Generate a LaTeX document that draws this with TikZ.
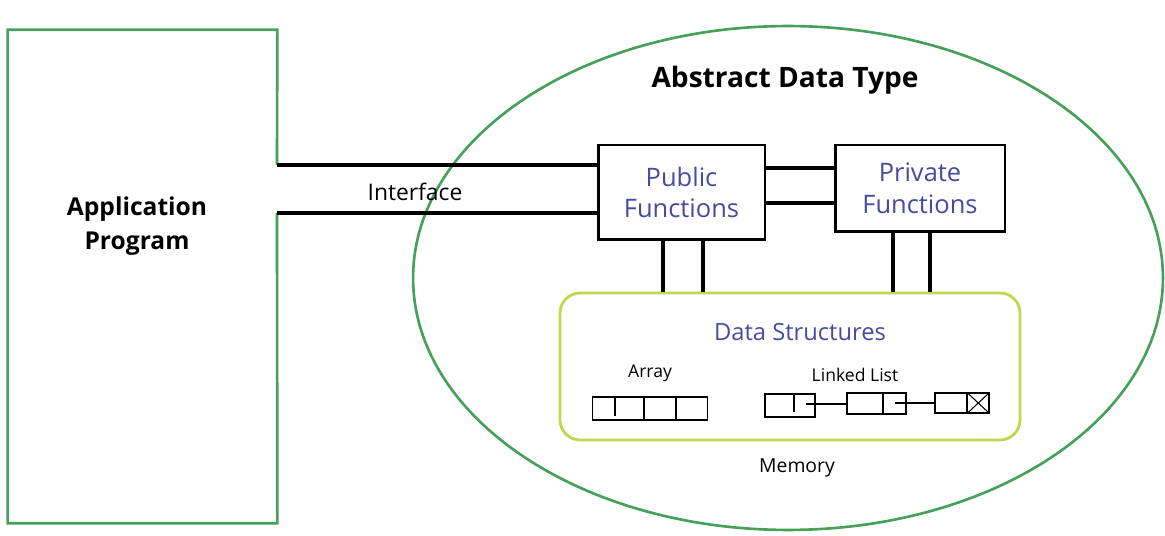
\documentclass[tikz,border=0pt]{standalone}
\usepackage{fontspec}
\setmainfont{Open Sans}
\usepackage{tikz}
\usetikzlibrary{shapes.geometric}
\definecolor{appgreen}{RGB}{70,160,90}
\definecolor{dsyellow}{RGB}{190,215,80}
\definecolor{fnblue}{RGB}{70,75,160}
\tikzstyle{Program}=[minimum width=5.38cm, minimum height=9.86cm, inner sep=0pt, draw=none]
\tikzstyle{Type}=[shape=ellipse, minimum width=15cm, minimum height=10.08cm, inner sep=0pt, line width=1.5pt, draw=appgreen]
\tikzstyle{Function}=[minimum height=1.9cm, fill=white, line width=1.7pt, draw=black, text=fnblue, align=center, font=\fontsize{14.5}{18}\selectfont]
\tikzstyle{Store}=[minimum width=9.2cm, minimum height=2.94cm, rounded corners=0.4cm, line width=1.6pt, draw=dsyellow]
\tikzstyle{Cell}=[minimum height=0.44cm, inner sep=0pt, line width=0.6pt, draw=black]
\tikzstyle{label}=[text=black, font=\fontsize{10}{12}\selectfont]
\tikzstyle{wire}=[line width=1.8pt]
\tikzstyle{thin}=[line width=0.6pt]
\pgfdeclarelayer{nodelayer}
\pgfdeclarelayer{edgelayer}
\pgfsetlayers{nodelayer, edgelayer}

\begin{document}
\begin{tikzpicture}[x=0.02cm, y=-0.02cm]
	\useasboundingbox (0,0) rectangle (1165,536);
	\begin{pgfonlayer}{nodelayer}
		\node [style=Program] (app) at (142.5, 276.5) {};
		\node [font=\bfseries\fontsize{14}{19}\selectfont, align=center] (apptext) at (137, 226) {Application\\Program};
		\node [style=Type] (adt) at (788, 278) {};
		\node [font=\bfseries\fontsize{16}{18}\selectfont] (adttext) at (785, 80) {Abstract Data Type};
		\node [style=Function, minimum width=3.34cm] (public) at (681.5, 192.5) {Public\\Functions};
		\node [style=Function, minimum width=3.4cm, minimum height=1.74cm] (private) at (920, 188.5) {Private\\Functions};
		\node [style=Store] (store) at (790, 366.5) {};
		\node [text=fnblue, font=\fontsize{13.5}{15}\selectfont] (storetext) at (800, 332) {Data Structures};
		\node [style=label] (arraytext) at (650, 373) {Array};
		\node [style=label] (listtext) at (855, 375) {Linked List};
		\node [style=Cell, minimum width=2.3cm, minimum height=0.46cm] (array) at (650, 408.5) {};
		\node [style=Cell, minimum width=1cm, minimum height=0.46cm] (ll1) at (790, 405.5) {};
		\node [style=Cell, minimum width=1.18cm, minimum height=0.42cm] (ll2) at (876.5, 403.5) {};
		\node [style=Cell, minimum width=1.08cm, minimum height=0.4cm] (ll3) at (962, 403) {};
		\node [font=\fontsize{11}{13}\selectfont] (memory) at (797, 468) {Memory};
		\node [font=\fontsize{13}{15}\selectfont] (interface) at (415, 192) {Interface};
		\coordinate (if1) at (277, 165);
		\coordinate (if2) at (277, 213);
		\coordinate (p1) at (806, 404);
		\coordinate (p2) at (895, 403);
	\end{pgfonlayer}
	\begin{pgfonlayer}{edgelayer}
		\draw [line width=1.5pt, draw=appgreen] (if1) -- (app.north east) -- (app.north west) -- (app.south west) -- (app.south east) -- (if2);
		\draw [style=wire] (if1) to (if1 -| public.west);
		\draw [style=wire] (if2) to (if2 -| public.west);
		\draw [style=wire] (public.east |- 0,168) to (private.west |- 0,168);
		\draw [style=wire] (public.east |- 0,203) to (private.west |- 0,203);
		\draw [style=wire] (public.south -| 663,0) to (store.north -| 663,0);
		\draw [style=wire] (public.south -| 703,0) to (store.north -| 703,0);
		\draw [style=wire] (private.south -| 893,0) to (store.north -| 893,0);
		\draw [style=wire] (private.south -| 930,0) to (store.north -| 930,0);
		% cells
		\draw [style=thin] (array.north -| 615,0) to (0,416 -| 615,0);
		\draw [style=thin] (array.north -| 644,0) to (array.south -| 644,0);
		\draw [style=thin] (array.north -| 676,0) to (array.south -| 676,0);
		\draw [style=thin] (ll1.north -| 794,0) to (0,412 -| 794,0);
		\draw [style=thin] (ll2.north -| 883,0) to (ll2.south -| 883,0);
		\draw [style=thin] (ll3.north -| 967,0) to (ll3.south -| 967,0);
		\draw [style=thin] (ll3.north -| 967,0) to (ll3.south east);
		\draw [style=thin] (ll3.south -| 967,0) to (ll3.north east);
		\draw [style=thin] (p1) to (p1 -| ll2.west);
		\draw [style=thin] (p2) to (p2 -| ll3.west);
	\end{pgfonlayer}
\end{tikzpicture}
\end{document}
